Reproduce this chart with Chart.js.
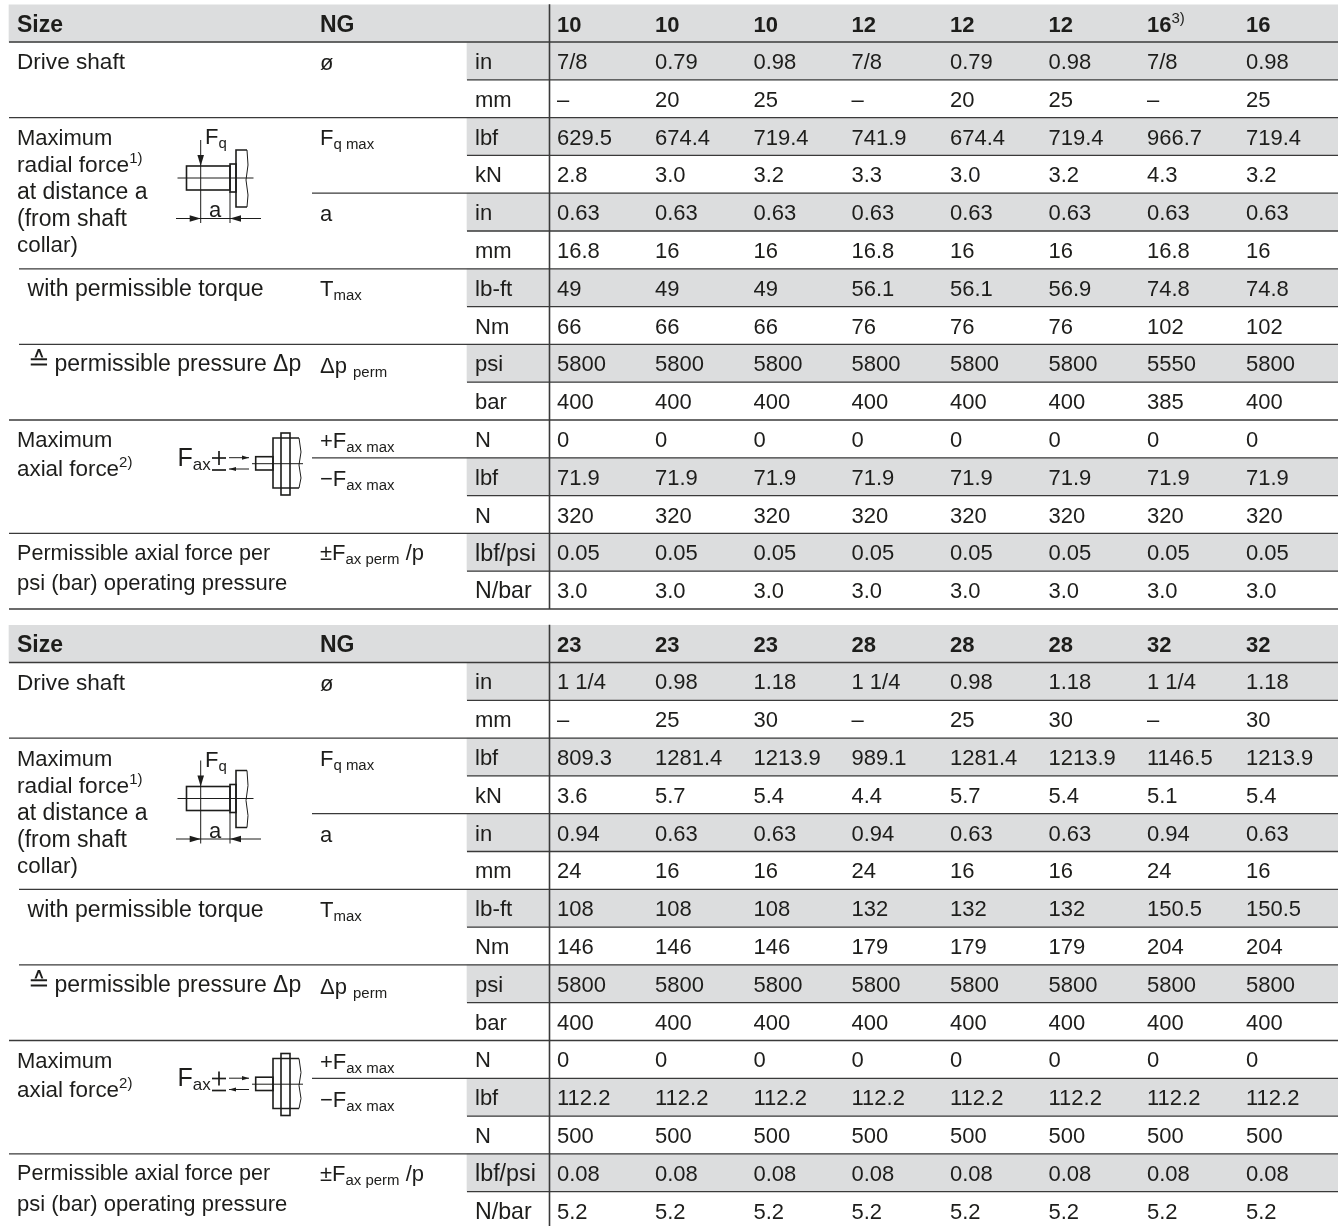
<!DOCTYPE html>
<html>
<head>
<meta charset="utf-8">
<title>Shaft loads</title>
<style>
  html, body { margin: 0; padding: 0; background: #fff; }
  canvas { display: block; }
</style>
<script src="https://cdn.jsdelivr.net/npm/chart.js@4/dist/chart.umd.min.js"></script>
</head>
<body>
<canvas id="table-chart" width="1338" height="1226"></canvas>
<script>
// unit column, same for both tables
const units = ["in", "mm", "lbf", "kN", "in", "mm", "lb-ft", "Nm", "psi", "bar", "N", "lbf", "N", "lbf/psi", "N/bar"];

// first table
const sizes1 = ["10", "10", "10", "12", "12", "12", "16^{3)}", "16"];
const shaftIn1 = ["7/8", "0.79", "0.98", "7/8", "0.79", "0.98", "7/8", "0.98"];
const shaftMm1 = ["–", "20", "25", "–", "20", "25", "–", "25"];
const radialLbf1 = ["629.5", "674.4", "719.4", "741.9", "674.4", "719.4", "966.7", "719.4"];
const radialKn1 = ["2.8", "3.0", "3.2", "3.3", "3.0", "3.2", "4.3", "3.2"];
const distIn1 = ["0.63", "0.63", "0.63", "0.63", "0.63", "0.63", "0.63", "0.63"];
const distMm1 = ["16.8", "16", "16", "16.8", "16", "16", "16.8", "16"];
const torqueLbft1 = ["49", "49", "49", "56.1", "56.1", "56.9", "74.8", "74.8"];
const torqueNm1 = ["66", "66", "66", "76", "76", "76", "102", "102"];
const pressPsi1 = ["5800", "5800", "5800", "5800", "5800", "5800", "5550", "5800"];
const pressBar1 = ["400", "400", "400", "400", "400", "400", "385", "400"];
const axialPlusN1 = ["0", "0", "0", "0", "0", "0", "0", "0"];
const axialLbf1 = ["71.9", "71.9", "71.9", "71.9", "71.9", "71.9", "71.9", "71.9"];
const axialN1 = ["320", "320", "320", "320", "320", "320", "320", "320"];
const permLbf1 = ["0.05", "0.05", "0.05", "0.05", "0.05", "0.05", "0.05", "0.05"];
const permN1 = ["3.0", "3.0", "3.0", "3.0", "3.0", "3.0", "3.0", "3.0"];

// second table
const sizes2 = ["23", "23", "23", "28", "28", "28", "32", "32"];
const shaftIn2 = ["1 1/4", "0.98", "1.18", "1 1/4", "0.98", "1.18", "1 1/4", "1.18"];
const shaftMm2 = ["–", "25", "30", "–", "25", "30", "–", "30"];
const radialLbf2 = ["809.3", "1281.4", "1213.9", "989.1", "1281.4", "1213.9", "1146.5", "1213.9"];
const radialKn2 = ["3.6", "5.7", "5.4", "4.4", "5.7", "5.4", "5.1", "5.4"];
const distIn2 = ["0.94", "0.63", "0.63", "0.94", "0.63", "0.63", "0.94", "0.63"];
const distMm2 = ["24", "16", "16", "24", "16", "16", "24", "16"];
const torqueLbft2 = ["108", "108", "108", "132", "132", "132", "150.5", "150.5"];
const torqueNm2 = ["146", "146", "146", "179", "179", "179", "204", "204"];
const pressPsi2 = ["5800", "5800", "5800", "5800", "5800", "5800", "5800", "5800"];
const pressBar2 = ["400", "400", "400", "400", "400", "400", "400", "400"];
const axialPlusN2 = ["0", "0", "0", "0", "0", "0", "0", "0"];
const axialLbf2 = ["112.2", "112.2", "112.2", "112.2", "112.2", "112.2", "112.2", "112.2"];
const axialN2 = ["500", "500", "500", "500", "500", "500", "500", "500"];
const permLbf2 = ["0.08", "0.08", "0.08", "0.08", "0.08", "0.08", "0.08", "0.08"];
const permN2 = ["5.2", "5.2", "5.2", "5.2", "5.2", "5.2", "5.2", "5.2"];

const rows1 = [shaftIn1, shaftMm1, radialLbf1, radialKn1, distIn1, distMm1, torqueLbft1, torqueNm1, pressPsi1, pressBar1, axialPlusN1, axialLbf1, axialN1, permLbf1, permN1];
const rows2 = [shaftIn2, shaftMm2, radialLbf2, radialKn2, distIn2, distMm2, torqueLbft2, torqueNm2, pressPsi2, pressBar2, axialPlusN2, axialLbf2, axialN2, permLbf2, permN2];

// row captions and symbols
const captions = ["Drive shaft", "Maximum", "radial force^{1)}", "at distance a", "(from shaft", "collar)",
  "with permissible torque", "≙", "permissible pressure Δp", "Maximum", "axial force^{2)}",
  "Permissible axial force per", "psi (bar) operating pressure"];
const symbols = ["ø", "F_{q max}", "a", "T_{max}", "Δp _{perm}", "+F_{ax max}", "−F_{ax max}", "±F_{ax perm} /p"];

// layout: y axis counts table rows from the header line, x axis is canvas px
const ROW_H = 37.8;
const TOP = 42;
const TABLE2 = 620.5 / ROW_H;
const pxRow = (py) => (py - TOP) / ROW_H;
const colX = [557, 655, 753.5, 851.5, 950, 1048.5, 1147, 1246];
const captionAt = [[17, 61], [17, 137], [17, 164], [17, 191], [17, 218], [17, 244],
  [27.5, 288], [28, 361], [54.5, 363], [17, 439], [17, 468], [17, 552], [17, 582]];
const captionSizes = [22.6, 22, 22.7, 23, 23, 22.4, 23.1, 26, 23, 22, 22.4, 21.6, 22];
const unitSizes = [22, 22, 22, 22, 22, 22, 22.4, 22, 22, 22, 22, 22, 22, 23.3, 23.2];
const symbolAt = [[320, 62], [320, 137], [320, 213], [320, 288], [320, 365], [320, 440], [320, 478], [320, 552]];

const GREY = "#dcddde";
const INK = "#1d1d1b";
const RULE = "#3a3a3a";
const LEFT = 9, MID = 19, SYM = 312, UNIT = 467, RIGHT = 1338;
const greyRows = [0, 2, 4, 6, 8, 11, 13];
// where the line above each row starts, header line first
const ruleStart = [LEFT, UNIT, LEFT, UNIT, SYM, UNIT, MID, UNIT, MID, UNIT, LEFT, SYM, UNIT, LEFT, UNIT, LEFT];

function buildTable(shift, sizes, rows) {
  const out = [];
  out.push({ type: "bar", indexAxis: "y", grouped: false, order: 5, barThickness: 37.5,
    backgroundColor: GREY, data: [{ x: [LEFT, RIGHT], y: shift - 0.49 }] });
  out.push({ type: "bar", indexAxis: "y", grouped: false, order: 5, barThickness: ROW_H,
    backgroundColor: GREY, data: greyRows.map((r) => ({ x: [UNIT, RIGHT], y: shift + r + 0.5 })) });
  ruleStart.forEach((from, i) => {
    out.push({ type: "line", order: 3, borderColor: RULE, borderWidth: 1.3, pointRadius: 0,
      data: [{ x: from, y: shift + i }, { x: RIGHT, y: shift + i }] });
  });
  out.push({ type: "line", order: 3, borderColor: RULE, borderWidth: 1.6, pointRadius: 0,
    data: [{ x: 549.5, y: shift - 1 }, { x: 549.5, y: shift + 15 }] });
  out.push({ type: "scatter", order: 1, pointRadius: 0, cellFont: "bold", cellText: sizes,
    data: colX.map((x) => ({ x: x, y: shift - 0.49 })) });
  out.push({ type: "scatter", order: 1, pointRadius: 0, cellText: ["Size", "NG"], cellSizes: [23, 23],
    cellFont: "bold", data: [{ x: 17, y: shift - 0.49 }, { x: 320, y: shift - 0.49 }] });
  rows.forEach((vals, r) => {
    out.push({ type: "scatter", order: 1, pointRadius: 0, cellText: vals,
      data: colX.map((x) => ({ x: x, y: shift + r + 0.5 })) });
  });
  out.push({ type: "scatter", order: 1, pointRadius: 0, cellText: units, cellSizes: unitSizes,
    data: units.map((u, r) => ({ x: 475, y: shift + r + 0.5 })) });
  out.push({ type: "scatter", order: 1, pointRadius: 0, cellText: captions, cellSizes: captionSizes,
    data: captionAt.map((p) => ({ x: p[0], y: shift + pxRow(p[1]) })) });
  out.push({ type: "scatter", order: 1, pointRadius: 0, cellText: symbols,
    data: symbolAt.map((p) => ({ x: p[0], y: shift + pxRow(p[1]) })) });
  return out;
}

// text with ^{sup} and _{sub} parts
function drawRich(ctx, str, x, y, weight, base) {
  base = base || 22;
  const parts = str.split(/(\^\{.*?\}|_\{.*?\})/).filter((s) => s.length);
  let cx = x;
  parts.forEach((p) => {
    let size = base, dy = 0, t = p, w = weight || "";
    if (p.startsWith("^{")) { size = 15; dy = -7; t = p.slice(2, -1); w = ""; }
    if (p.startsWith("_{")) { size = base * 0.68; dy = 6; t = p.slice(2, -1); w = ""; }
    ctx.font = w + " " + size + "px 'Liberation Sans', Arial, sans-serif";
    ctx.fillText(t, cx, y + dy);
    cx += ctx.measureText(t).width;
  });
}

const cellLabels = {
  id: "cellLabels",
  afterDatasetsDraw(chart) {
    const ctx = chart.ctx;
    ctx.save();
    ctx.fillStyle = INK;
    ctx.textBaseline = "middle";
    ctx.textAlign = "left";
    chart.data.datasets.forEach((ds, i) => {
      if (!ds.cellText) return;
      const points = chart.getDatasetMeta(i).data;
      ds.cellText.forEach((t, k) => {
        drawRich(ctx, t, points[k].x, points[k].y + 2, ds.cellFont, ds.cellSizes && ds.cellSizes[k]);
      });
    });
    ctx.restore();
  },
};

function seg(ctx, pts) {
  ctx.beginPath();
  pts.forEach((p, i) => (i ? ctx.lineTo(p[0], p[1]) : ctx.moveTo(p[0], p[1])));
  ctx.stroke();
}

function head(ctx, tip, dx, dy) {
  ctx.beginPath();
  ctx.moveTo(tip[0], tip[1]);
  ctx.lineTo(tip[0] + dx + dy * 0.3, tip[1] + dy + dx * 0.3);
  ctx.lineTo(tip[0] + dx - dy * 0.3, tip[1] + dy - dx * 0.3);
  ctx.closePath();
  ctx.fill();
}

// shaft sketches, offsets follow the table they sit in
function radialSketch(ctx, oy) {
  ctx.lineWidth = 1.6;
  ctx.strokeRect(186.5, 166 + oy, 43.5, 24);
  ctx.strokeRect(230, 164 + oy, 6, 28);
  seg(ctx, [[247, 207 + oy], [236, 207 + oy], [236, 150 + oy], [247, 150 + oy]]);
  ctx.lineWidth = 1;
  seg(ctx, [[247, 150 + oy], [248, 165 + oy], [246, 180 + oy], [248, 195 + oy], [247, 207 + oy]]);
  seg(ctx, [[177.5, 178 + oy], [253.5, 178 + oy]]);
  seg(ctx, [[200.7, 140 + oy], [200.7, 223 + oy]]);
  seg(ctx, [[230, 192 + oy], [230, 223 + oy]]);
  seg(ctx, [[176, 218.5 + oy], [261, 218.5 + oy]]);
  head(ctx, [200.7, 166 + oy], 0, -11);
  head(ctx, [200.7, 218.5 + oy], -11, 0);
  head(ctx, [230, 218.5 + oy], 11, 0);
  drawRich(ctx, "F_{q}", 205, (oy ? 140 : 138) + oy);
  drawRich(ctx, "a", 209, 211 + oy);
}

function axialSketch(ctx, oy) {
  ctx.lineWidth = 1.6;
  ctx.strokeRect(255.7, 456.7 + oy, 17.3, 13.3);
  seg(ctx, [[299, 438 + oy], [273, 438 + oy], [273, 488 + oy], [299, 488 + oy]]);
  ctx.strokeRect(281, 433 + oy, 9, 62);
  ctx.lineWidth = 1;
  seg(ctx, [[299, 438 + oy], [301, 452 + oy], [299, 465 + oy], [301, 478 + oy], [299, 488 + oy]]);
  seg(ctx, [[252, 463.7 + oy], [303, 463.7 + oy]]);
  seg(ctx, [[229, 457.7 + oy], [249, 457.7 + oy]]);
  seg(ctx, [[229, 469 + oy], [249, 469 + oy]]);
  head(ctx, [249, 457.7 + oy], -7, 0);
  head(ctx, [229, 469 + oy], 7, 0);
  ctx.lineWidth = 1.7;
  seg(ctx, [[212, 458 + oy], [226, 458 + oy]]);
  seg(ctx, [[219, 451 + oy], [219, 465 + oy]]);
  seg(ctx, [[212, 470 + oy], [226, 470 + oy]]);
  drawRich(ctx, "F_{ax}", 177.5, 459 + oy, "", 25);
}

const sketches = {
  id: "sketches",
  afterDatasetsDraw(chart) {
    const ctx = chart.ctx;
    const y = chart.scales.y;
    const oy = y.getPixelForValue(TABLE2) - y.getPixelForValue(0);
    ctx.save();
    ctx.strokeStyle = INK;
    ctx.fillStyle = INK;
    ctx.textBaseline = "middle";
    [0, oy].forEach((d) => {
      radialSketch(ctx, d);
      axialSketch(ctx, d);
    });
    ctx.restore();
  },
};

new Chart(document.getElementById("table-chart"), {
  type: "scatter",
  data: { datasets: [...buildTable(0, sizes1, rows1), ...buildTable(TABLE2, sizes2, rows2)] },
  options: {
    responsive: false,
    animation: false,
    devicePixelRatio: 1,
    layout: { padding: 0 },
    plugins: { legend: { display: false }, tooltip: { enabled: false } },
    scales: {
      x: { type: "linear", display: false, offset: false, min: 0, max: 1338 },
      y: { type: "linear", display: false, offset: false, reverse: true, min: pxRow(0), max: pxRow(1226) },
    },
  },
  plugins: [cellLabels, sketches],
});
</script>
</body>
</html>
